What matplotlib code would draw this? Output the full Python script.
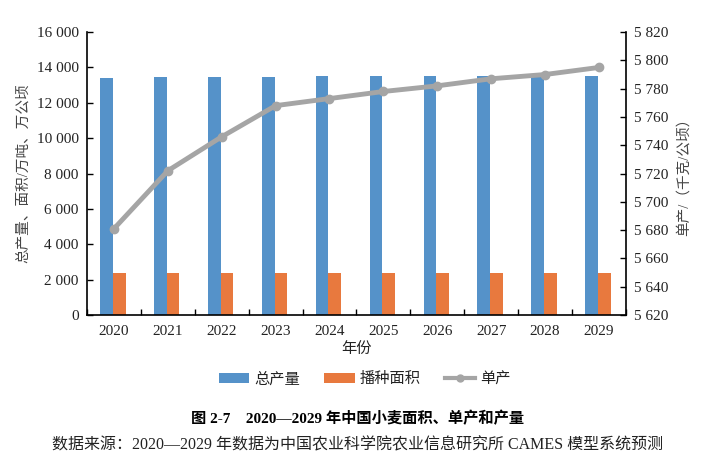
import matplotlib
matplotlib.use("Agg")
import matplotlib.pyplot as plt
import numpy as np
from matplotlib.ticker import FuncFormatter, MultipleLocator
from matplotlib.lines import Line2D
from matplotlib.patches import Patch

years = ["2020", "2021", "2022", "2023", "2024", "2025", "2026", "2027", "2028", "2029"]
total_output = [13420, 13470, 13470, 13470, 13540, 13530, 13530, 13530, 13530, 13530]
sown_area = [2370, 2370, 2370, 2370, 2370, 2370, 2370, 2370, 2370, 2370]
yield_per_ha = [5681, 5722, 5746, 5768, 5773, 5778, 5782, 5787, 5790, 5795]

FAM = ["Liberation Serif", "Noto Sans CJK SC", "DejaVu Sans"]
plt.rcParams["font.family"] = FAM

blue = "#5592C9"
orange = "#E8793E"
gray = "#A5A5A5"
txt = "#222222"

fig = plt.figure(figsize=(7.08, 4.65), dpi=100)
ax = fig.add_axes([0.1229, 0.3226, 0.7611, 0.6084])
ax2 = ax.twinx()

x = np.arange(len(years))
w = 0.235
ax.bar(x - w / 2 - 0.02, total_output, width=w, color=blue, zorder=2)
ax.bar(x + w / 2 - 0.02, sown_area, width=w, color=orange, zorder=2)

ax2.plot(x, yield_per_ha, color=gray, lw=3.5, marker="o", ms=6, zorder=3)

ax.set_xlim(-0.5, len(years) - 0.5)
ax.set_ylim(0, 16000)
ax2.set_ylim(5620, 5820)
ax.yaxis.set_major_locator(MultipleLocator(2000))
ax2.yaxis.set_major_locator(MultipleLocator(20))

fmt = FuncFormatter(lambda v, p: f"{int(round(v)):,}".replace(",", " "))
ax.yaxis.set_major_formatter(fmt)
ax2.yaxis.set_major_formatter(fmt)

ax.set_xticks(x)
ax.set_xticklabels(years)
ax.set_xticks(np.arange(-0.5, len(years) + 0.5, 1), minor=True)
ax.tick_params(axis="x", which="major", length=0, labelsize=11, pad=7, labelcolor=txt)
ax.tick_params(axis="x", which="minor", direction="in", length=4, width=1)
ax.tick_params(axis="y", direction="in", length=4, width=1, labelsize=11, pad=6, labelcolor=txt)
ax2.tick_params(axis="y", direction="in", length=4, width=1, labelsize=11, pad=6, labelcolor=txt)

for a in (ax, ax2):
    a.spines["top"].set_visible(False)
    for s in ("left", "right", "bottom"):
        a.spines[s].set_linewidth(1.2)
        a.spines[s].set_color("black")
ax.spines["right"].set_visible(False)
ax2.spines["left"].set_visible(False)
ax2.spines["bottom"].set_visible(False)

ax.set_xlabel("年份", fontsize=11, labelpad=3, color=txt)
ax.set_ylabel("总产量、面积/万吨、万公顷", fontsize=10.5, labelpad=5, color="#444444")
ax2.set_ylabel("单产/（千克/公顷）", fontsize=10.5, labelpad=6, color="#444444")

handles = [
    Patch(facecolor=blue, edgecolor="none"),
    Patch(facecolor=orange, edgecolor="none"),
    Line2D([0], [0], color=gray, lw=3, marker="o", ms=5),
]
fig.legend(handles, ["总产量", "播种面积", "单产"], loc="center", bbox_to_anchor=(0.515, 0.185),
           ncol=3, frameon=False, fontsize=11, handlelength=2.0, handleheight=0.6,
           columnspacing=1.6, handletextpad=0.3, labelcolor=txt)

fig.text(0.505, 0.10, "图 2-7    2020—2029 年中国小麦面积、单产和产量", ha="center", va="center",
         fontsize=11, fontweight="bold")
fig.text(0.505, 0.042, "数据来源：2020—2029 年数据为中国农业科学院农业信息研究所 CAMES 模型系统预测",
         ha="center", va="center", fontsize=11.5, color=txt)

fig.savefig("out.png", dpi=100)
